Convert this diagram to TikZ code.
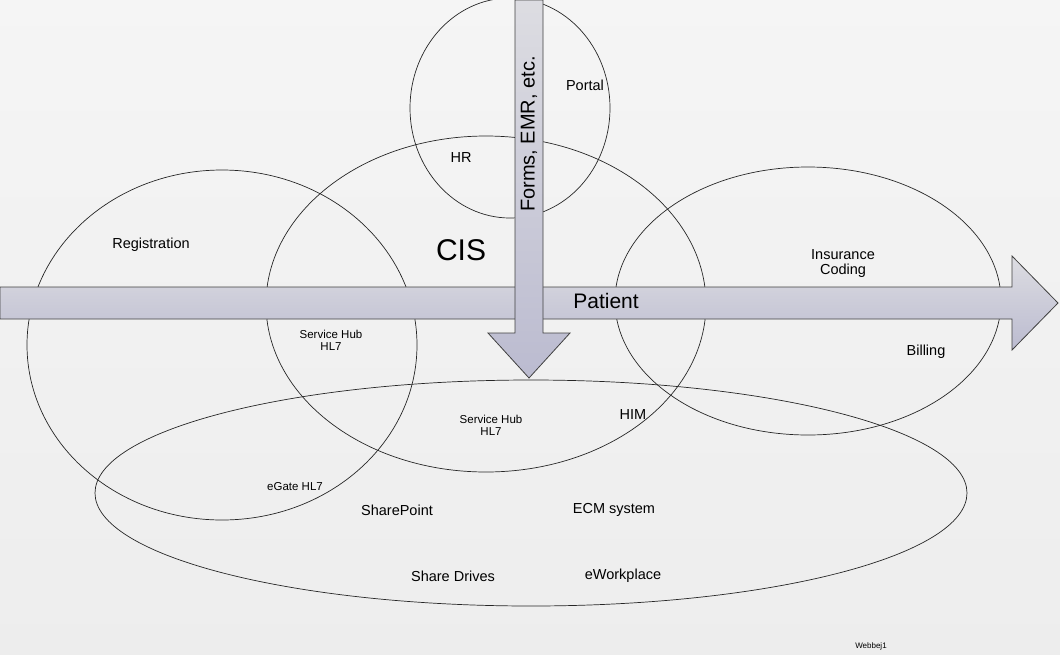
\documentclass[tikz,border=0pt]{standalone}
\usepackage{fontspec}
\setmainfont{Liberation Sans}
\begin{document}
\begin{tikzpicture}[x=1pt,y=-1pt,
  ell/.style={draw=black!85,line width=0.7pt},
  arr/.style={draw=black!75,line width=0.8pt,top color=blue!8!gray!25,bottom color=blue!18!gray!45},
  lbl/.style={font=\fontsize{14.5}{16}\selectfont,align=center},
  sm/.style={font=\fontsize{11.5}{13}\selectfont,align=center}]
\useasboundingbox (0,0) rectangle (1060,654);
\fill[top color=gray!8,bottom color=gray!14] (0,0) rectangle (1060,654);
\draw[ell] (510,108) ellipse [x radius=100,y radius=110];
\draw[ell] (486,304) ellipse [x radius=220,y radius=168];
\draw[ell] (222,345) ellipse [x radius=195,y radius=175];
\draw[ell] (808,301) ellipse [x radius=193,y radius=134];
\draw[ell] (531,493) ellipse [x radius=436,y radius=113];
\draw[arr] (0,287) -- (1012,287) -- (1012,256) -- (1058,303) -- (1012,350) -- (1012,319) -- (0,319) -- cycle;
\draw[arr] (515,0) -- (543,0) -- (543,333) -- (570,333) -- (529,378) -- (488,333) -- (515,333) -- cycle;
\node[rotate=90,font=\fontsize{20}{22}\selectfont] (fe) at (529,134) {Forms, EMR, etc.};
\node[lbl] (portal) at (585,85) {Portal};
\node[lbl] (hr) at (461,158) {HR};
\node[font=\fontsize{30}{34}\selectfont] (cis) at (461,250) {CIS};
\node[lbl] (reg) at (151,245) {Registration};
\node[lbl] (ins) at (843,264) {Insurance\\[-1pt]Coding};
\node[font=\fontsize{21}{24}\selectfont] (pat) at (606,301) {Patient};
\node[sm] (sh1) at (331,340) {Service Hub\\[-1pt]HL7};
\node[lbl] (bill) at (926,352) {Billing};
\node[sm] (sh2) at (491,425) {Service Hub\\[-1pt]HL7};
\node[lbl] (him) at (633,415) {HIM};
\node[sm] (eg) at (295,487) {eGate HL7};
\node[lbl] (sp) at (397,510) {SharePoint};
\node[lbl] (ecm) at (614,510) {ECM system};
\node[lbl] (sd) at (453,576) {Share Drives};
\node[lbl] (ew) at (623,576) {eWorkplace};
\node[font=\fontsize{8}{9}\selectfont] (wb) at (871,646) {Webbej1};
\end{tikzpicture}
\end{document}
